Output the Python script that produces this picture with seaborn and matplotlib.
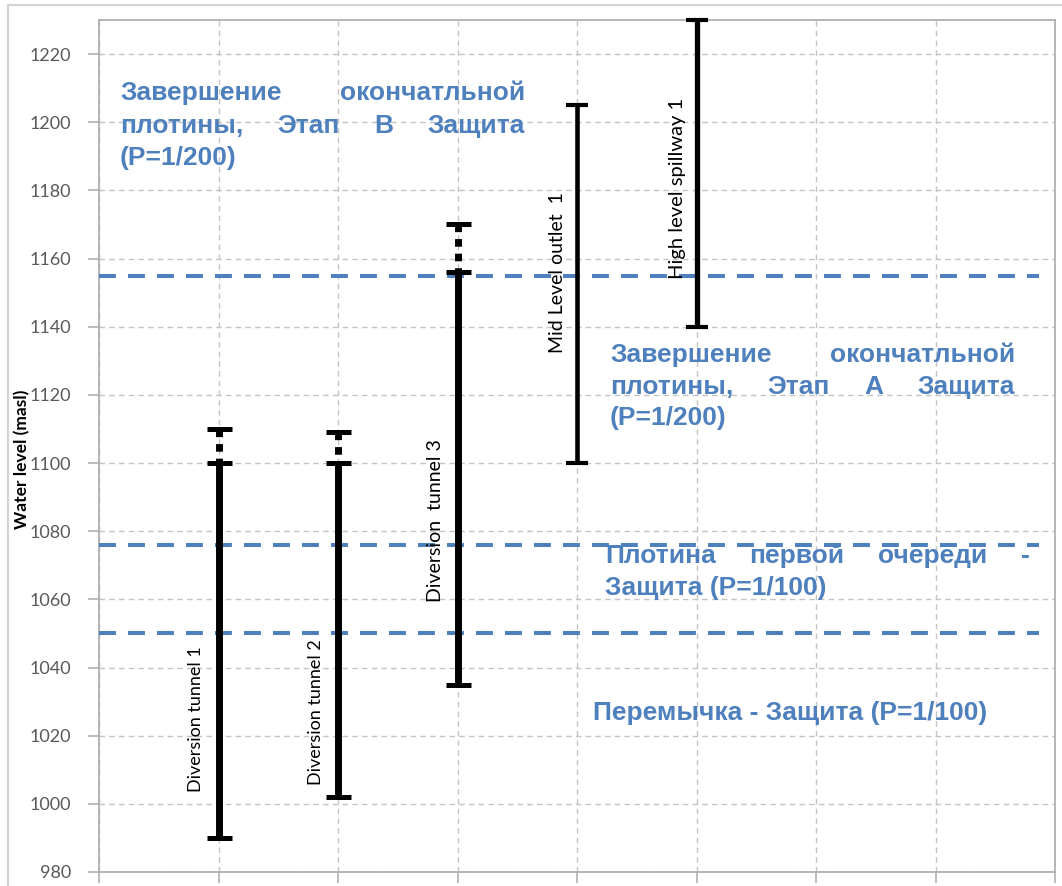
import numpy as np
import pandas as pd
import matplotlib
matplotlib.use("Agg")
import matplotlib.pyplot as plt
import seaborn as sns
from matplotlib.patches import Rectangle

# ---------------- data ----------------
items = ["Diversion tunnel 1", "Diversion tunnel 2", "Diversion  tunnel 3",
         "Mid Level outlet  1", "High level spillway 1"]
positions = [1, 2, 3, 4, 5]
level_low = [990, 1002, 1035, 1100, 1140]
level_high = [1100, 1100, 1156, 1205, 1230]

ext_positions = [1, 2, 3]
ext_low = [1100, 1100, 1156]
ext_high = [1110, 1109, 1170]

ref_levels = [1155, 1076, 1050]

block_lines = [
    ["Завершение окончатльной", "плотины, Этап В Защита", "(P=1/200)"],
    ["Завершение окончатльной", "плотины, Этап А Защита", "(P=1/200)"],
    ["Плотина первой очереди -", "Защита (P=1/100)"],
    ["Перемычка - Защита (P=1/100)"],
]

yticks = list(range(980, 1221, 20))
y_label = "Water level (masl)"

# ---------------- style / layout ----------------
W, H = 1062, 886
bar_widths = [5.0, 5.0, 5.0, 3.3, 3.8]
cap_len = [18, 18, 18, 16, 16]
cap_thick = [3.6, 3.6, 3.6, 3.0, 3.0]
label_x = [0.812, 1.816, 2.812, 3.833, 4.845]
label_y = [1025.0, 1027, 1083, 1156, 1180.6]
label_size = [13, 13, 14, 14, 14.5]

# blocks: left px, right px, baselines px, justify flags
block_geom = [
    (120, 525, [100, 133, 165], [True, True, False]),
    (610, 1015, [362, 394, 425], [True, True, False]),
    (605, 1030, [563, 595], [True, False]),
    (593, 990, [720], [False]),
]

sns.set_theme(style="whitegrid")
plt.rcParams["font.family"] = ["Lato", "DejaVu Sans"]

fig = plt.figure(figsize=(W / 100, H / 100), dpi=100)
fig.patch.set_facecolor("white")
ax = fig.add_axes([99 / W, 14 / H, 956 / W, 852 / H])
ax.set_facecolor("white")

# main range bars via seaborn
df = pd.DataFrame({
    "item": np.repeat(items, 2),
    "x": np.repeat(positions, 2),
    "level": np.ravel(np.column_stack([level_low, level_high])),
})
sns.lineplot(data=df, x="x", y="level", units="item", estimator=None, sort=False,
             size="item", sizes=dict(zip(items, bar_widths)), color="black",
             legend=False, ax=ax, solid_capstyle="butt", zorder=5)

# caps
for i, x in enumerate(positions):
    ax.plot([x, x], [level_low[i], level_high[i]], ls="none", marker="_",
            ms=cap_len[i], mew=cap_thick[i], color="black", zorder=6, clip_on=False)

# dotted extensions
for i, x in enumerate(ext_positions):
    ax.plot([x, x], [ext_high[i], ext_low[i]], color="black", lw=5,
            ls=(0, (1.1, 1.0)), dash_capstyle="butt", zorder=5)
    ax.plot([x], [ext_high[i]], ls="none", marker="_", ms=18, mew=3.6,
            color="black", zorder=6)

# reference (blue dashed) lines
for lv in ref_levels:
    ax.plot([0, 7.87], [lv, lv], color="#4e80bd", lw=2.9, ls=(0, (4.2, 3.0)),
            dash_capstyle="butt", zorder=4)

# item labels
for i, name in enumerate(items):
    ax.text(label_x[i], label_y[i], name, rotation=90, ha="center", va="center",
            fontsize=label_size[i], color="black", family=["Lato", "DejaVu Sans"], zorder=7)

ax.set_xlim(0, 8)
ax.set_ylim(980, 1230)
ax.set_xticks(range(0, 9))
ax.set_xticklabels([])
ax.set_yticks(yticks)
ax.set_yticklabels([str(t) for t in yticks])
ax.set_xlabel("")
ax.set_ylabel(y_label, fontsize=12.5, color="black", fontweight="bold")
ax.yaxis.set_label_coords(-0.072, 0.484)

ax.grid(True, color="#c4c4c4", ls=(0, (4, 3)), lw=1.0)
ax.set_axisbelow(True)
for s in ax.spines.values():
    s.set_visible(True)
    s.set_color("#b0b0b0")
    s.set_linewidth(1.3)
ax.tick_params(axis="both", which="both", direction="out", length=8, width=1.2,
               color="#b0b0b0", bottom=True, left=True)
ax.tick_params(axis="y", labelsize=13, labelcolor="#595959", pad=12)

# outer frame
fig.patches.append(Rectangle((8 / W, -20 / H), 1.2, (H + 15) / H, transform=fig.transFigure,
                             fill=False, edgecolor="#d4d4d4", lw=1.6, zorder=0))

# justified blue annotations
renderer = fig.canvas.get_renderer()
tkw = dict(fontsize=19, fontweight="bold", color="#4e80bd",
           family=["Liberation Sans", "DejaVu Sans"], va="baseline", ha="left")


def word_width(w):
    t = fig.text(0, 0, w, **tkw)
    wd = t.get_window_extent(renderer).width
    t.remove()
    return wd


for lines, (x0, x1, ybs, just) in zip(block_lines, block_geom):
    for line, yb, jf in zip(lines, ybs, just):
        words = line.split()
        if not jf or len(words) == 1:
            fig.text(x0 / W, 1 - yb / H, line, **tkw)
            continue
        widths = [word_width(w) for w in words]
        gap = (x1 - x0 - sum(widths)) / (len(words) - 1)
        cx = x0
        for w, wd in zip(words, widths):
            fig.text(cx / W, 1 - yb / H, w, **tkw)
            cx += wd + gap

fig.savefig("out.png", dpi=100)
